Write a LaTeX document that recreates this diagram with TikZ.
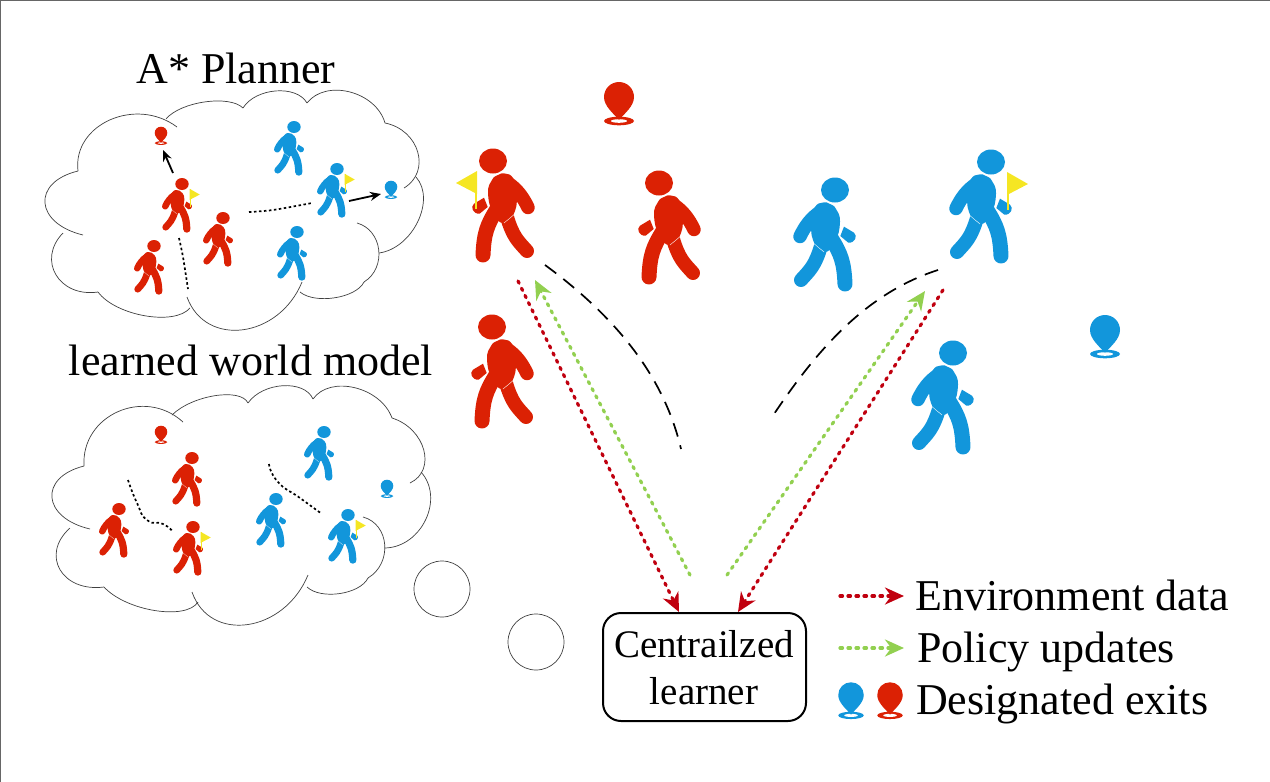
\documentclass[tikz,border=0pt]{standalone}
\usepackage{fontspec}
\setmainfont{Liberation Serif}
\usetikzlibrary{arrows.meta,calc}
\definecolor{cred}{RGB}{219,33,4}
\definecolor{cblue}{RGB}{18,150,219}
\definecolor{cyellow}{RGB}{245,230,35}
\definecolor{cdata}{RGB}{192,0,15}
\definecolor{cpolicy}{RGB}{146,208,80}
\tikzset{
  walksize/.store in=\walksize, walksize=1,
  walker/.pic={
    \fill (0,0) ellipse [x radius=14, y radius=12.5];
    \fill plot[smooth cycle,tension=.8] coordinates {(-1,19) (5,14) (12,12.5) (20,17) (23.3,30.7) (22,50) (11,62) (0,52) (-5,32)};
    \draw[line width=13.5*\walksize,line cap=round,line join=round] (15,22) .. controls (24,28) and (30,36) .. (35,46.5);
    \draw[line width=15*\walksize,line cap=round,line join=round] (4,48) .. controls (-6,64) and (-9,72) .. (-10,94);
    \draw[line width=14*\walksize,line cap=round,line join=round] (14,56) .. controls (20,76) and (25,80) .. (34,90);
    \draw[white,line width=.4*\walksize] (11,62) -- (21,53.7);
    \fill (-9,36.7) -- (-5.3,46) -- (-13.3,52.7) .. controls (-20,53.3) and (-23,45.7) .. (-19,42.7) -- cycle;
  },
  flagmark/.pic={
    \fill[cyellow] (-16,10) -- (-37,22) -- (-16,33) -- cycle;
    \draw[cyellow,line width=2.5*\walksize] (-17,11) -- (-17,48);
  },
  pinmark/.pic={
    \fill (0,24) ellipse [x radius=15, y radius=4.3];
    \fill[white] (0,24) ellipse [x radius=8, y radius=1.8];
    \fill (-15,0) arc [start angle=180, end angle=360, x radius=15, y radius=15] .. controls (15,9) and (6,16) .. (0,23) .. controls (-6,16) and (-15,9) .. (-15,0) -- cycle;
  },
  cloudline/.style={line width=.7pt,draw=black!75},
  plandots/.style={line width=1.7pt,dash pattern=on 2.5pt off 2.5pt},
  bigdash/.style={line width=1.7pt,dash pattern=on 14pt off 9pt},
  dataline/.style={cdata,line width=3.2pt,dash pattern=on 2.5pt off 5.5pt,line cap=round,-{Stealth[length=19pt,width=17pt]}},
  policyline/.style={cpolicy,line width=3.2pt,dash pattern=on 2.5pt off 5.5pt,line cap=round,-{Stealth[length=19pt,width=17pt]}},
  planarrow/.style={line width=1.8pt,-{Stealth[length=11pt,width=9pt]}},
  titletext/.style={font=\fontsize{44}{50}\selectfont,inner sep=0pt},
  boxtext/.style={font=\fontsize{39}{45}\selectfont,inner sep=0pt},
}
% one cloud lobe: start, middle, end
\newcommand{\lobe}[3]{\draw[cloudline] #1 .. controls ($.153*#1+1.333*#2-.487*#3$) and ($.153*#3+1.333*#2-.487*#1$) .. #3;}
\begin{document}
\begin{tikzpicture}[x=1pt,y=-1pt]
\useasboundingbox (0,0) rectangle (1270,782);
\draw[black!60,line width=1pt] (0.5,782) -- (0.5,0.5) -- (1270,0.5);

%%% Upper cloud
\lobe{(83,235)}{(45,203)}{(78,171)}
\lobe{(78,171)}{(110,120)}{(177,127)}
\lobe{(166,119)}{(205,102)}{(243,108)}
\lobe{(243,108)}{(276,91)}{(307,103)}
\lobe{(307,103)}{(350,92)}{(385,123)}
\lobe{(385,123)}{(418,152)}{(404,188)}
\lobe{(416,177)}{(418,222)}{(379,253)}
\lobe{(357,223)}{(379,250)}{(364,282)}
\lobe{(364,282)}{(335,298)}{(300,292)}
\lobe{(302,282)}{(243,330)}{(187,297)}
\lobe{(190,308)}{(145,316)}{(98,292)}
\lobe{(98,292)}{(56,275)}{(63,233)}

%%% Lower cloud
\lobe{(90,529)}{(52,498)}{(84,466)}
\lobe{(84,466)}{(118,412)}{(183,422)}
\lobe{(172,415)}{(215,396)}{(248,403)}
\lobe{(248,403)}{(283,386)}{(313,399)}
\lobe{(313,399)}{(355,388)}{(392,418)}
\lobe{(392,418)}{(424,450)}{(410,483)}
\lobe{(421,472)}{(426,520)}{(385,548)}
\lobe{(363,517)}{(385,545)}{(368,578)}
\lobe{(368,578)}{(340,594)}{(307,587)}
\lobe{(308,575)}{(248,625)}{(192,592)}
\lobe{(198,602)}{(155,611)}{(104,587)}
\lobe{(104,587)}{(60,570)}{(70,528)}

\node[cloudline,draw,circle,minimum size=56pt,inner sep=0pt] (bubbleone) at (442,589) {};
\node[cloudline,draw,circle,minimum size=56pt,inner sep=0pt] (bubbletwo) at (536,642) {};

%%% Titles
\node[titletext,anchor=base] (plannertitle) at (236,83) {A* Planner};
\node[titletext,anchor=base] (worldtitle) at (251,375) {learned world model};

%%% Walkers in the upper cloud
\pic[color=cred,walksize=.48,scale=.48,xscale=-1] at (182,184) {walker};
\pic[color=cred,walksize=.48,scale=.48,xscale=-1] at (182,184) {flagmark};
\pic[color=cred,walksize=.48,scale=.48,xscale=-1] at (223,218) {walker};
\pic[color=cred,walksize=.48,scale=.48,xscale=-1] at (154,246) {walker};
\pic[color=cblue,walksize=.48,scale=.48,xscale=-1] at (294,127) {walker};
\pic[color=cblue,walksize=.48,scale=.48,xscale=-1] at (337,169) {walker};
\pic[color=cblue,walksize=.48,scale=.48,xscale=-1] at (337,169) {flagmark};
\pic[color=cblue,walksize=.48,scale=.48,xscale=-1] at (297,232) {walker};
\pic[color=cred,scale=.42] at (161,133) {pinmark};
\pic[color=cblue,scale=.42] at (391,187) {pinmark};

\coordinate (upperredgoal) at (163,150);
\coordinate (upperredstart) at (173,173);
\coordinate (upperbluegoal) at (381,194);
\coordinate (upperbluestart) at (349,201);
\draw[planarrow] (upperredstart) -- (upperredgoal);
\draw[planarrow] (upperbluestart) -- (upperbluegoal);
\draw[plandots] plot[smooth] coordinates {(249,212) (273,210) (312,203)};
\draw[plandots] plot[smooth] coordinates {(179,238) (183,257) (188,289)};

%%% Walkers in the lower cloud
\pic[color=cred,walksize=.48,scale=.48,xscale=-1] at (192,458) {walker};
\pic[color=cred,walksize=.48,scale=.48,xscale=-1] at (119,509) {walker};
\pic[color=cred,walksize=.48,scale=.48,xscale=-1] at (193,527) {walker};
\pic[color=cred,walksize=.48,scale=.48,xscale=-1] at (193,527) {flagmark};
\pic[color=cblue,walksize=.48,scale=.48,xscale=-1] at (324,432) {walker};
\pic[color=cblue,walksize=.48,scale=.48,xscale=-1] at (276,499) {walker};
\pic[color=cblue,walksize=.48,scale=.48,xscale=-1] at (348,515) {walker};
\pic[color=cblue,walksize=.48,scale=.48,xscale=-1] at (348,515) {flagmark};
\pic[color=cred,scale=.42] at (161,432) {pinmark};
\pic[color=cblue,scale=.42] at (387,486) {pinmark};

\draw[plandots] plot[smooth,tension=1] coordinates {(128,480) (137,503) (147,520) (163,524) (173,532)};
\draw[plandots] plot[smooth,tension=1] coordinates {(269,464) (278,482) (300,498) (322,514)};

%%% Walkers in the environment
\pic[color=cred] at (493,161) {walker};
\pic[color=cred] at (493,161) {flagmark};
\pic[color=cred] at (659,183) {walker};
\pic[color=cred] at (492,327) {walker};
\pic[color=cblue,xscale=-1] at (835,190) {walker};
\pic[color=cblue,xscale=-1] at (991,162) {walker};
\pic[color=cblue,xscale=-1] at (991,162) {flagmark};
\pic[color=cblue,xscale=-1] at (953,353) {walker};
\pic[color=cred] at (619,97) {pinmark};
\pic[color=cblue] at (1105,330) {pinmark};

\coordinate (leftsplit) at (545,265);
\coordinate (leftsplitend) at (681,449);
\coordinate (rightsplit) at (938,270);
\coordinate (rightsplitend) at (770,420);
\draw[bigdash] (leftsplit) .. controls (620,320) and (665,380) .. (leftsplitend);
\draw[bigdash] (rightsplit) .. controls (860,295) and (810,360) .. (rightsplitend);

%%% Learner and its data flows
\node[draw,line width=2pt,rounded corners=18pt,minimum width=203pt,minimum height=108pt] (learner) at (704.5,667) {};
\node[boxtext,anchor=base] (learnerone) at (704,657) {Centrailzed};
\node[boxtext,anchor=base] (learnertwo) at (704,704) {learner};

\coordinate (leftdatain) at (679,612);
\coordinate (rightdatain) at (738,612);
\coordinate (leftdataout) at (518,281);
\coordinate (rightdataout) at (943,290);
\coordinate (leftpolicyin) at (535,280);
\coordinate (rightpolicyin) at (925,291);
\coordinate (leftpolicyout) at (690,575);
\coordinate (rightpolicyout) at (727,575);
\draw[dataline] (leftdataout) -- (leftdatain);
\draw[dataline] (rightdataout) -- (rightdatain);
\draw[policyline] (leftpolicyout) -- (leftpolicyin);
\draw[policyline] (rightpolicyout) -- (rightpolicyin);

%%% Legend
\coordinate (dataa) at (840,596);
\coordinate (datab) at (904,596);
\coordinate (policya) at (840,648);
\coordinate (policyb) at (904,648);
\draw[dataline] (dataa) -- (datab);
\draw[policyline] (policya) -- (policyb);
\node[titletext,anchor=base west] (datatext) at (915,610) {Environment data};
\node[titletext,anchor=base west] (policytext) at (917,662) {Policy updates};
\node[titletext,anchor=base west] (exittext) at (916,714) {Designated exits};
\pic[color=cblue,scale=.85] at (851,695) {pinmark};
\pic[color=cred,scale=.85] at (890,695) {pinmark};
\end{tikzpicture}
\end{document}
